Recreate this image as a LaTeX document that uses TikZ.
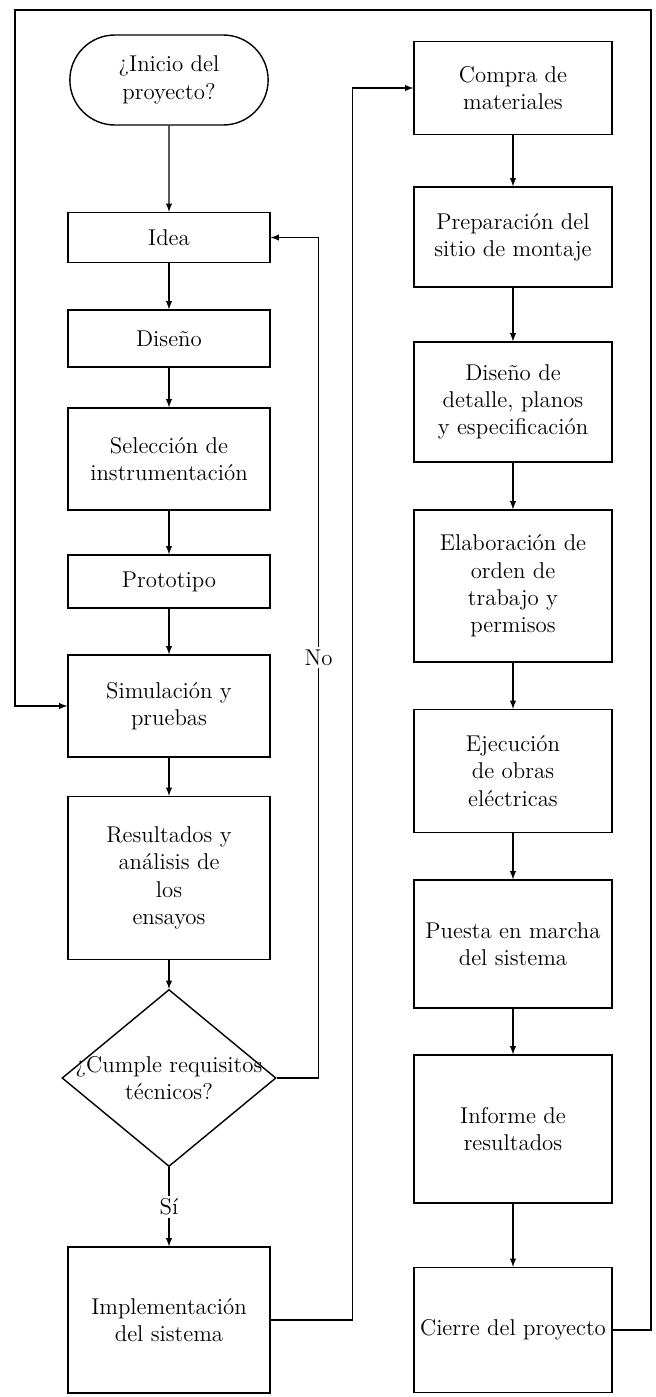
\documentclass[tikz,border=0pt]{standalone}
\usepackage{tikz}
\usetikzlibrary{shapes.geometric,shapes.misc}

\begin{document}
\begin{tikzpicture}[>=latex, font=\fontsize{13}{15.5}\selectfont]
    \tikzstyle{startstop} = [rounded rectangle, minimum width=4.2cm, minimum height=1.8cm, align=center, draw=black, fill=white, line width=0.8pt]
    \tikzstyle{process} = [rectangle, minimum width=4.04cm, align=center, draw=black, fill=white, line width=0.8pt]
    \tikzstyle{task} = [rectangle, minimum width=3.96cm, align=center, draw=black, fill=white, line width=0.8pt]
    \tikzstyle{decision} = [diamond, minimum width=4.28cm, minimum height=3.54cm, inner sep=0pt, draw=black, fill=white, line width=0.8pt]
    \tikzstyle{arrow} = [->, line width=0.6pt]
    \tikzstyle{answer} = [fill=white, inner sep=1.5pt]

    \useasboundingbox (0,0) rectangle (13.1,-27.94);

    % Left column: design stage
    \node [startstop] (inicio) at (3.38,-1.6) {¿Inicio del\\ proyecto?};
    \node [process, minimum height=1cm] (idea) at (3.38,-4.75) {Idea};
    \node [process, minimum height=1.14cm] (diseno) at (3.38,-6.77) {Diseño};
    \node [process, minimum height=2.04cm] (seleccion) at (3.38,-9.18) {Selección de\\ instrumentación};
    \node [process, minimum height=1.06cm] (prototipo) at (3.38,-11.63) {Prototipo};
    \node [process, minimum height=2.04cm] (simulacion) at (3.38,-14.12) {Simulación y\\ pruebas};
    \node [process, minimum height=3.26cm] (resultados) at (3.38,-17.56) {Resultados y\\ análisis de\\ los\\ ensayos};
    \node [decision, label={[align=center]center:¿Cumple requisitos\\ técnicos?}] (cumple) at (3.38,-21.56) {};
    \node [process, minimum height=2.92cm] (implementacion) at (3.38,-26.4) {Implementación\\ del sistema};

    % Right column: execution stage
    \node [task, minimum height=1.86cm] (compra) at (10.26,-1.76) {Compra de\\ materiales};
    \node [task, minimum height=2cm] (preparacion) at (10.26,-4.74) {Preparación del\\ sitio de montaje};
    \node [task, minimum height=2.4cm] (detalle) at (10.26,-8.04) {Diseño de\\ detalle, planos\\ y especificación};
    \node [task, minimum height=3.04cm] (orden) at (10.26,-11.72) {Elaboración de\\ orden de\\ trabajo y\\ permisos};
    \node [task, minimum height=2.46cm] (ejecucion) at (10.26,-15.42) {Ejecución\\ de obras\\ eléctricas};
    \node [task, minimum height=2.56cm] (puesta) at (10.26,-18.88) {Puesta en marcha\\ del sistema};
    \node [task, minimum height=2.96cm] (informe) at (10.26,-22.58) {Informe de\\ resultados};
    \node [task, minimum height=2.5cm] (cierre) at (10.26,-26.6) {Cierre del proyecto};

    % Return path corners
    \coordinate (topright) at (13.02,-0.2);
    \coordinate (topleft) at (0.3,-0.2);

    % Left column arrows
    \draw [arrow] (inicio) -- (idea);
    \draw [arrow] (idea) -- (diseno);
    \draw [arrow] (diseno) -- (seleccion);
    \draw [arrow] (seleccion) -- (prototipo);
    \draw [arrow] (prototipo) -- (simulacion);
    \draw [arrow] (simulacion) -- (resultados);
    \draw [arrow] (resultados) -- (cumple);
    \draw [arrow] (cumple) -- node [answer] {Sí} (implementacion);
    \draw [arrow] (cumple.east) -- ++(0.84,0) |- node [answer, pos=0.25] {No} (idea.east);
    \draw [arrow] (implementacion.east) -- ++(1.64,0) |- (compra.west);

    % Right column arrows
    \draw [arrow] (compra) -- (preparacion);
    \draw [arrow] (preparacion) -- (detalle);
    \draw [arrow] (detalle) -- (orden);
    \draw [arrow] (orden) -- (ejecucion);
    \draw [arrow] (ejecucion) -- (puesta);
    \draw [arrow] (puesta) -- (informe);
    \draw [arrow] (informe) -- (cierre);
    \draw [arrow] (cierre.east) -| (topright) -- (topleft) |- (simulacion.west);
\end{tikzpicture}
\end{document}
